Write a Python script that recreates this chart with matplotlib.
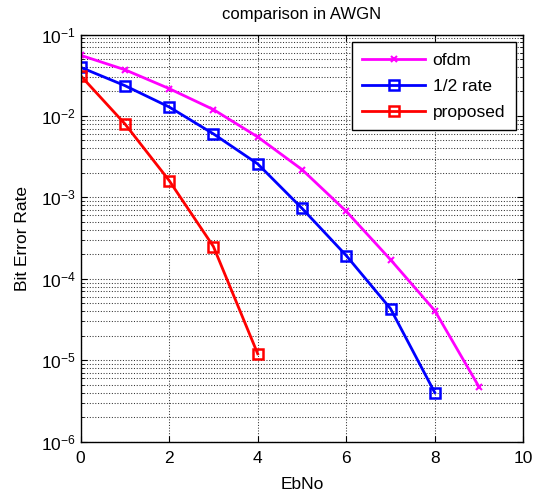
import numpy as np
import matplotlib
matplotlib.use("Agg")
import matplotlib.pyplot as plt
from matplotlib.ticker import LogLocator, NullFormatter

plt.rcParams['font.family'] = ['Liberation Sans', 'DejaVu Sans']

ebno_ofdm = [0, 1, 2, 3, 4, 5, 6, 7, 8, 9]
ber_ofdm = [0.0557, 0.037, 0.0217, 0.012, 0.00553, 0.0022, 6.75e-4, 1.72e-4, 4.07e-5, 4.7e-6]

ebno_half = [0, 1, 2, 3, 4, 5, 6, 7, 8]
ber_half = [0.0396, 0.0236, 0.0129, 0.00603, 0.00258, 7.35e-4, 1.93e-4, 4.3e-5, 4.0e-6]

ebno_prop = [0, 1, 2, 3, 4]
ber_prop = [0.0313, 0.008, 0.00161, 2.49e-4, 1.2e-5]

fig = plt.figure(figsize=(5.34, 4.94), dpi=100)
ax = fig.add_axes([0.151, 0.106, 0.829, 0.824])

ax.semilogy(ebno_ofdm, ber_ofdm, '-x', color='magenta', lw=2, ms=5, mew=1.5, label='ofdm')
ax.semilogy(ebno_half, ber_half, '-s', color='blue', lw=2, ms=7.5, mew=1.8, mfc='none', label='1/2 rate')
ax.semilogy(ebno_prop, ber_prop, '-s', color='red', lw=2, ms=7.5, mew=1.8, mfc='none', label='proposed')

ax.set_xlim(0, 10)
ax.set_ylim(1e-6, 1e-1)
ax.set_xticks([0, 2, 4, 6, 8, 10])
ax.yaxis.set_major_locator(LogLocator(base=10, numticks=10))
ax.yaxis.set_minor_locator(LogLocator(base=10, subs=np.arange(2, 10), numticks=20))
ax.yaxis.set_minor_formatter(NullFormatter())

ax.grid(True, which='major', linestyle=':', color='0.2', lw=0.75)
ax.grid(True, which='minor', axis='y', linestyle=':', color='0.2', lw=0.75)
ax.tick_params(which='both', direction='in', top=True, right=True, labelsize=12.5)
ax.tick_params(which='major', length=4)
ax.tick_params(which='minor', length=2)
ax.tick_params(axis='x', which='major', pad=7)
for s in ax.spines.values():
    s.set_linewidth(1.0)

ax.set_xlabel('EbNo', fontsize=12.5, labelpad=8)
ax.set_ylabel('Bit Error Rate', fontsize=12.5, labelpad=8)
ax.set_title('comparison in AWGN', fontsize=12, pad=11)

leg = ax.legend(loc='upper right', fontsize=12.5, fancybox=False, framealpha=1,
                edgecolor='black', borderaxespad=0.45, handlelength=3.6,
                handletextpad=0.45, labelspacing=0.62, borderpad=0.6)
leg.get_frame().set_linewidth(1.0)

fig.savefig('out.png', dpi=100)
